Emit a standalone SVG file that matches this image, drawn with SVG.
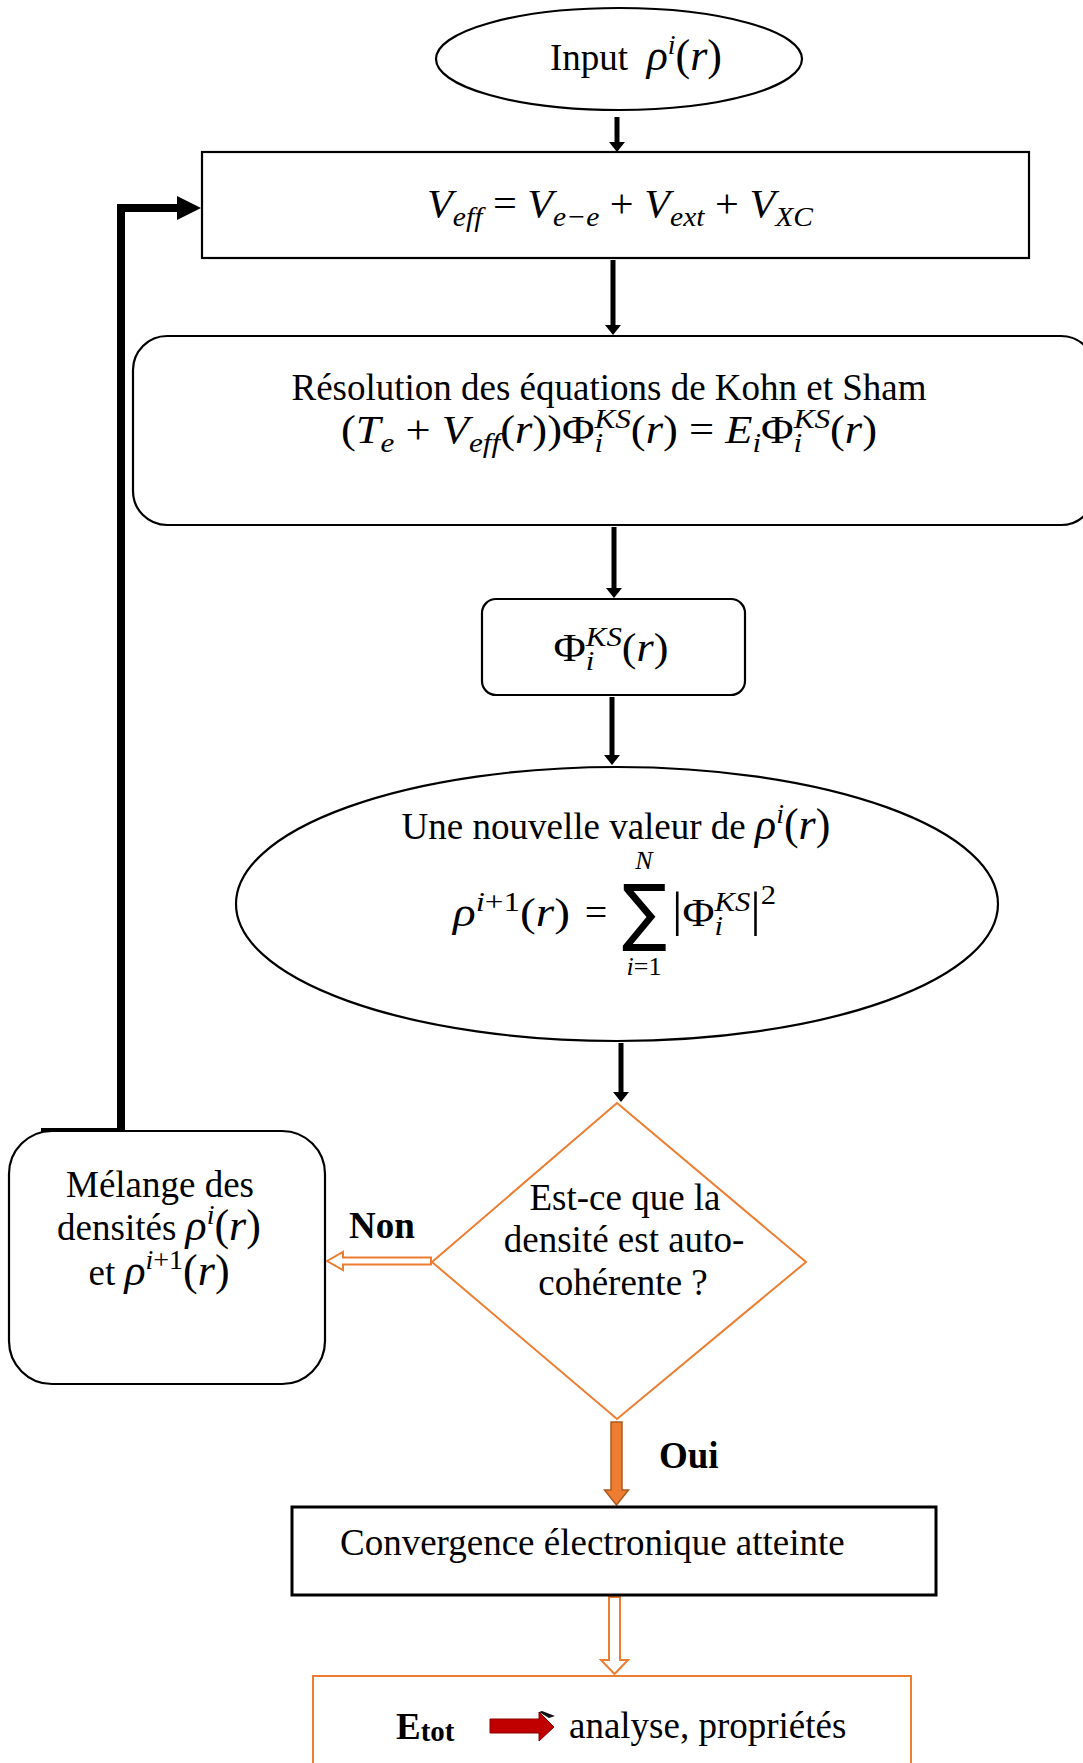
<svg xmlns="http://www.w3.org/2000/svg" width="1083" height="1763" viewBox="0 0 1083 1763">
<style>
.t{font-family:"Liberation Serif","Times New Roman",serif;font-size:37px;fill:#000;white-space:pre}
.m{font-family:"Liberation Serif","Times New Roman",serif;font-size:40px;fill:#000;white-space:pre}
.mi{font-size:44px}
.i{font-style:italic}
.s{font-size:28px}
.ss{font-size:26px}
.b{font-weight:bold}
.nb{fill:#fff;stroke:#000;stroke-width:2.2}
.or{fill:#fff;stroke:#ED7D31;stroke-width:2}
.ar{stroke:#000;stroke-width:5;fill:none}
</style>
<defs>
<marker id="ah" viewBox="0 -8 10 16" markerWidth="10" markerHeight="16" refX="0" refY="0" orient="auto" markerUnits="userSpaceOnUse">
<path d="M0,-8 L10,0 L0,8 Z" fill="#000"/>
</marker>
</defs>
<rect width="1083" height="1763" fill="#fff"/>

<g id="connectors">
<line class="ar" x1="617" y1="117" x2="617" y2="142" marker-end="url(#ah)"/>
<line class="ar" x1="613" y1="260" x2="613" y2="325" marker-end="url(#ah)"/>
<line class="ar" x1="614" y1="527" x2="614" y2="588" marker-end="url(#ah)"/>
<line class="ar" x1="612" y1="697" x2="612" y2="755" marker-end="url(#ah)"/>
<line class="ar" x1="621" y1="1043" x2="621" y2="1092" marker-end="url(#ah)"/>
<polyline points="41,1132 121,1132 121,208 178,208" fill="none" stroke="#000" stroke-width="8" stroke-linejoin="miter"/>
<path d="M177,196 L201,208 L177,220 Z" fill="#000"/>
<path d="M431,1257.5 L343,1257.5 L343,1252 L327,1261 L343,1270 L343,1264.5 L431,1264.5 Z" fill="#fff" stroke="#ED7D31" stroke-width="2"/>
<path d="M611,1422 L622,1422 L622,1490 L628.5,1490 L616.5,1505 L604.5,1490 L611,1490 Z" fill="#ED7D31" stroke="#AE5A21" stroke-width="1.5"/>
<path d="M609,1597 L620,1597 L620,1660 L628,1660 L614.5,1674 L601,1660 L609,1660 Z" fill="#fff" stroke="#ED7D31" stroke-width="2"/>
</g>

<g id="input">
<ellipse class="nb" cx="619" cy="59" rx="183" ry="51"/>
<text class="t" x="636" y="70" text-anchor="middle">Input  <tspan class="m mi i">ρ</tspan><tspan class="m s i" dy="-16">i</tspan><tspan class="m mi" dy="16">(</tspan><tspan class="m mi i">r</tspan><tspan class="m mi">)</tspan></text>
</g>

<g id="veff">
<rect class="nb" x="202" y="152" width="827" height="106"/>
<text class="m" x="620" y="217" text-anchor="middle" textLength="386" lengthAdjust="spacingAndGlyphs"><tspan class="i">V</tspan><tspan class="s i" dy="9">eff</tspan><tspan dy="-9"> = </tspan><tspan class="i">V</tspan><tspan class="s i" dy="9">e−e</tspan><tspan dy="-9"> + </tspan><tspan class="i">V</tspan><tspan class="s i" dy="9">ext</tspan><tspan dy="-9"> + </tspan><tspan class="i">V</tspan><tspan class="s i" dy="9">XC</tspan></text>
</g>

<g id="kohn-sham">
<rect class="nb" x="133" y="336" width="962" height="189" rx="34" ry="34"/>
<text class="t" x="609" y="400" text-anchor="middle">Résolution des équations de Kohn et Sham</text>
<text class="m" x="609" y="443" text-anchor="middle" textLength="536" lengthAdjust="spacingAndGlyphs">(<tspan class="i">T</tspan><tspan class="s i" dy="9">e</tspan><tspan dy="-9"> + </tspan><tspan class="i">V</tspan><tspan class="s i" dy="9">eff</tspan><tspan dy="-9">(</tspan><tspan class="i">r</tspan><tspan>))Φ</tspan><tspan class="s i" dy="-15">KS</tspan><tspan class="s i" dx="-32.7" dy="24">i</tspan><tspan dx="24.9" dy="-9">(</tspan><tspan class="i">r</tspan><tspan>) = </tspan><tspan class="i">E</tspan><tspan class="s i" dy="9">i</tspan><tspan dy="-9">Φ</tspan><tspan class="s i" dy="-15">KS</tspan><tspan class="s i" dx="-32.7" dy="24">i</tspan><tspan dx="24.9" dy="-9">(</tspan><tspan class="i">r</tspan><tspan>)</tspan></text>
</g>

<g id="phi">
<rect class="nb" x="482" y="599" width="263" height="96" rx="14" ry="14"/>
<text class="m" x="611" y="661" text-anchor="middle" textLength="115" lengthAdjust="spacingAndGlyphs">Φ<tspan class="s i" dy="-15">KS</tspan><tspan class="s i" dx="-32.7" dy="24">i</tspan><tspan dx="24.9" dy="-9">(</tspan><tspan class="i">r</tspan><tspan>)</tspan></text>
</g>

<g id="density">
<ellipse class="nb" cx="617" cy="904" rx="381" ry="137"/>
<text class="t" x="616" y="839" text-anchor="middle">Une nouvelle valeur de <tspan class="m mi i">ρ</tspan><tspan class="m s i" dy="-16">i</tspan><tspan class="m mi" dy="16">(</tspan><tspan class="m mi i">r</tspan><tspan class="m mi">)</tspan></text>
<text class="m" x="453" y="926" textLength="117" lengthAdjust="spacingAndGlyphs"><tspan class="i">ρ</tspan><tspan class="s" dy="-15"><tspan class="i">i</tspan>+1</tspan><tspan dy="15">(</tspan><tspan class="i">r</tspan><tspan>)</tspan></text>
<text class="m" x="596" y="926" text-anchor="middle">=</text>
<text x="622" y="937" font-family="DejaVu Sans, sans-serif" font-size="74" textLength="45" lengthAdjust="spacingAndGlyphs">∑</text>
<text class="m ss i" x="644" y="869" text-anchor="middle">N</text>
<text class="m ss" x="644" y="975" text-anchor="middle"><tspan class="i">i</tspan>=1</text>
<text class="m" x="672" y="926" textLength="104" lengthAdjust="spacingAndGlyphs"><tspan font-size="48">|</tspan>Φ<tspan class="s i" dy="-15">KS</tspan><tspan class="s i" dx="-32.7" dy="24">i</tspan><tspan dx="24.9" dy="-9" font-size="48">|</tspan><tspan class="s" dy="-22">2</tspan></text>
</g>

<g id="decision">
<polygon class="or" points="617,1103 806,1262 617,1419 432,1262"/>
<text class="t" x="625" y="1210" text-anchor="middle">Est-ce que la</text>
<text class="t" x="624" y="1252" text-anchor="middle">densité est auto-</text>
<text class="t" x="623" y="1295" text-anchor="middle">cohérente ?</text>
</g>

<g id="label-non">
<text class="t b" x="382" y="1238" text-anchor="middle">Non</text>
</g>

<g id="label-oui">
<text class="t b" x="659" y="1468">Oui</text>
</g>

<g id="melange">
<rect class="nb" x="9" y="1131" width="316" height="253" rx="43" ry="43"/>
<text class="t" x="160" y="1197" text-anchor="middle">Mélange des</text>
<text class="t" x="159" y="1240" text-anchor="middle">densités <tspan class="m mi i">ρ</tspan><tspan class="m s i" dy="-16">i</tspan><tspan class="m mi" dy="16">(</tspan><tspan class="m mi i">r</tspan><tspan class="m mi">)</tspan></text>
<text class="t" x="159" y="1285" text-anchor="middle">et <tspan class="m mi i">ρ</tspan><tspan class="m s" dy="-16"><tspan class="i">i</tspan>+1</tspan><tspan class="m mi" dy="16">(</tspan><tspan class="m mi i">r</tspan><tspan class="m mi">)</tspan></text>
</g>

<g id="convergence">
<rect x="292" y="1507" width="644" height="88" fill="#fff" stroke="#000" stroke-width="3"/>
<text class="t" x="340" y="1555">Convergence électronique atteinte</text>
</g>

<g id="result">
<rect x="313" y="1676" width="598" height="120" fill="#fff" stroke="#ED7D31" stroke-width="2"/>
<text class="t b" x="396" y="1739" font-size="44">E<tspan font-size="29" dy="2">tot</tspan></text>
<path d="M490,1719 L539,1719 L539,1712 L554,1727 L539,1741 L539,1733 L490,1733 Z" fill="#C00000" stroke="#8B0000" stroke-width="1"/>
<path d="M539,1712 L542,1711 L555,1716 L549,1718 Z" fill="#111"/>
<text class="t" x="569" y="1738">analyse, propriétés</text>
</g>
</svg>
